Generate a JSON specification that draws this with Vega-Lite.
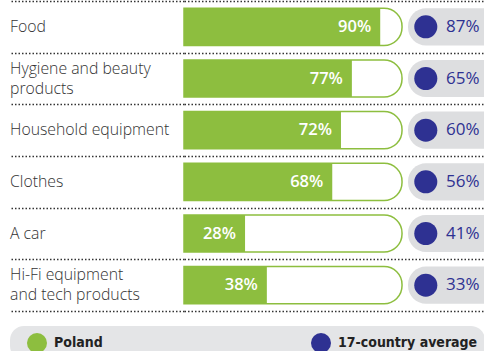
{
  "$schema": "https://vega.github.io/schema/vega-lite/v6.json",
  "autosize": {"type": "none"},
  "width": 300,
  "height": 310,
  "padding": {"left": 184, "top": 1, "right": 0, "bottom": 40},
  "background": "white",
  "config": {"view": {"stroke": null}},
  "data": {
    "values": [
      {"item": "Food", "label": "Food", "poland": 90, "avg": 87},
      {"item": "Hygiene and beauty products", "label": "Hygiene and beauty|products", "poland": 77, "avg": 65},
      {"item": "Household equipment", "label": "Household equipment", "poland": 72, "avg": 60},
      {"item": "Clothes", "label": "Clothes", "poland": 68, "avg": 56},
      {"item": "A car", "label": "A car", "poland": 28, "avg": 41},
      {"item": "Hi-Fi equipment and tech products", "label": "Hi-Fi equipment|and tech products", "poland": 38, "avg": 33}
    ]
  },
  "transform": [
    {"calculate": "datum.poland + '%'", "as": "polandLabel"},
    {"calculate": "datum.avg + '%'", "as": "avgLabel"}
  ],
  "encoding": {
    "y": {
      "field": "item",
      "type": "nominal",
      "sort": null,
      "scale": {"paddingInner": 0, "paddingOuter": 0},
      "axis": {
        "title": null,
        "domain": false,
        "labels": false,
        "ticks": true,
        "tickSize": 174,
        "tickBand": "extent",
        "tickColor": "#333333",
        "tickDash": [1.5, 2],
        "tickWidth": 1.5,
        "grid": true,
        "gridColor": "#333333",
        "gridDash": [1.5, 2],
        "gridWidth": 1.5,
        "gridOpacity": 1
      }
    }
  },
  "layer": [
    {
      "mark": {"type": "bar", "height": {"band": 0.72}, "color": "#dddee0", "cornerRadiusTopLeft": 18, "cornerRadiusBottomLeft": 18},
      "encoding": {
        "x": {"datum": 102.75, "type": "quantitative", "scale": {"domain": [0, 137.6], "nice": false, "zero": true}, "axis": null},
        "x2": {"datum": 150}
      }
    },
    {
      "mark": {"type": "bar", "height": {"band": 0.72}, "fill": "white", "stroke": "#8dbe3f", "strokeWidth": 1.5, "cornerRadiusTopRight": 18, "cornerRadiusBottomRight": 18},
      "encoding": {
        "x": {"datum": 0, "type": "quantitative"},
        "x2": {"datum": 100}
      }
    },
    {
      "mark": {"type": "bar", "height": {"band": 0.72}},
      "encoding": {
        "x": {"field": "poland", "type": "quantitative"},
        "color": {
          "datum": "Poland",
          "type": "nominal",
          "scale": {"domain": ["Poland", "17-country average"], "range": ["#8dbe3f", "#2e3192"]},
          "legend": {
            "title": null,
            "orient": "none",
            "legendX": -174,
            "legendY": 325,
            "direction": "horizontal",
            "fillColor": "#e4e5e7",
            "cornerRadius": 14,
            "padding": 7,
            "symbolType": "circle",
            "symbolSize": 400,
            "symbolOffset": 10,
            "symbolStrokeWidth": 0,
            "labelOffset": 7,
            "labelFont": "DejaVu Sans Condensed",
            "labelFontSize": 14,
            "labelFontWeight": "bold",
            "labelColor": "#222222",
            "columnPadding": 198
          }
        }
      }
    },
    {
      "mark": {"type": "text", "align": "right", "baseline": "middle", "dx": -9, "color": "white", "font": "Open Sans", "fontSize": 16.5, "fontWeight": 600},
      "encoding": {
        "x": {"field": "poland", "type": "quantitative"},
        "text": {"field": "polandLabel"}
      }
    },
    {
      "mark": {"type": "point", "shape": "circle", "filled": true, "opacity": 1, "size": 531},
      "encoding": {
        "x": {"datum": 110.9, "type": "quantitative"},
        "color": {"datum": "17-country average", "type": "nominal"}
      }
    },
    {
      "mark": {"type": "text", "align": "left", "baseline": "middle", "color": "#2e3192", "font": "Open Sans", "fontSize": 17, "fontWeight": 500},
      "encoding": {
        "x": {"datum": 120.2, "type": "quantitative"},
        "text": {"field": "avgLabel"}
      }
    },
    {
      "transform": [{"filter": "indexof(datum.label, '|') < 0"}],
      "mark": {"type": "text", "align": "left", "baseline": "middle", "color": "#333333", "font": "Open Sans", "fontSize": 15.8, "fontWeight": 300},
      "encoding": {
        "x": {"datum": -79.8, "type": "quantitative"},
        "text": {"field": "label"}
      }
    },
    {
      "transform": [{"filter": "indexof(datum.label, '|') >= 0"}],
      "mark": {"type": "text", "align": "left", "baseline": "middle", "dy": -10, "lineBreak": "|", "lineHeight": 20, "color": "#333333", "font": "Open Sans", "fontSize": 15.8, "fontWeight": 300},
      "encoding": {
        "x": {"datum": -79.8, "type": "quantitative"},
        "text": {"field": "label"}
      }
    }
  ]
}
